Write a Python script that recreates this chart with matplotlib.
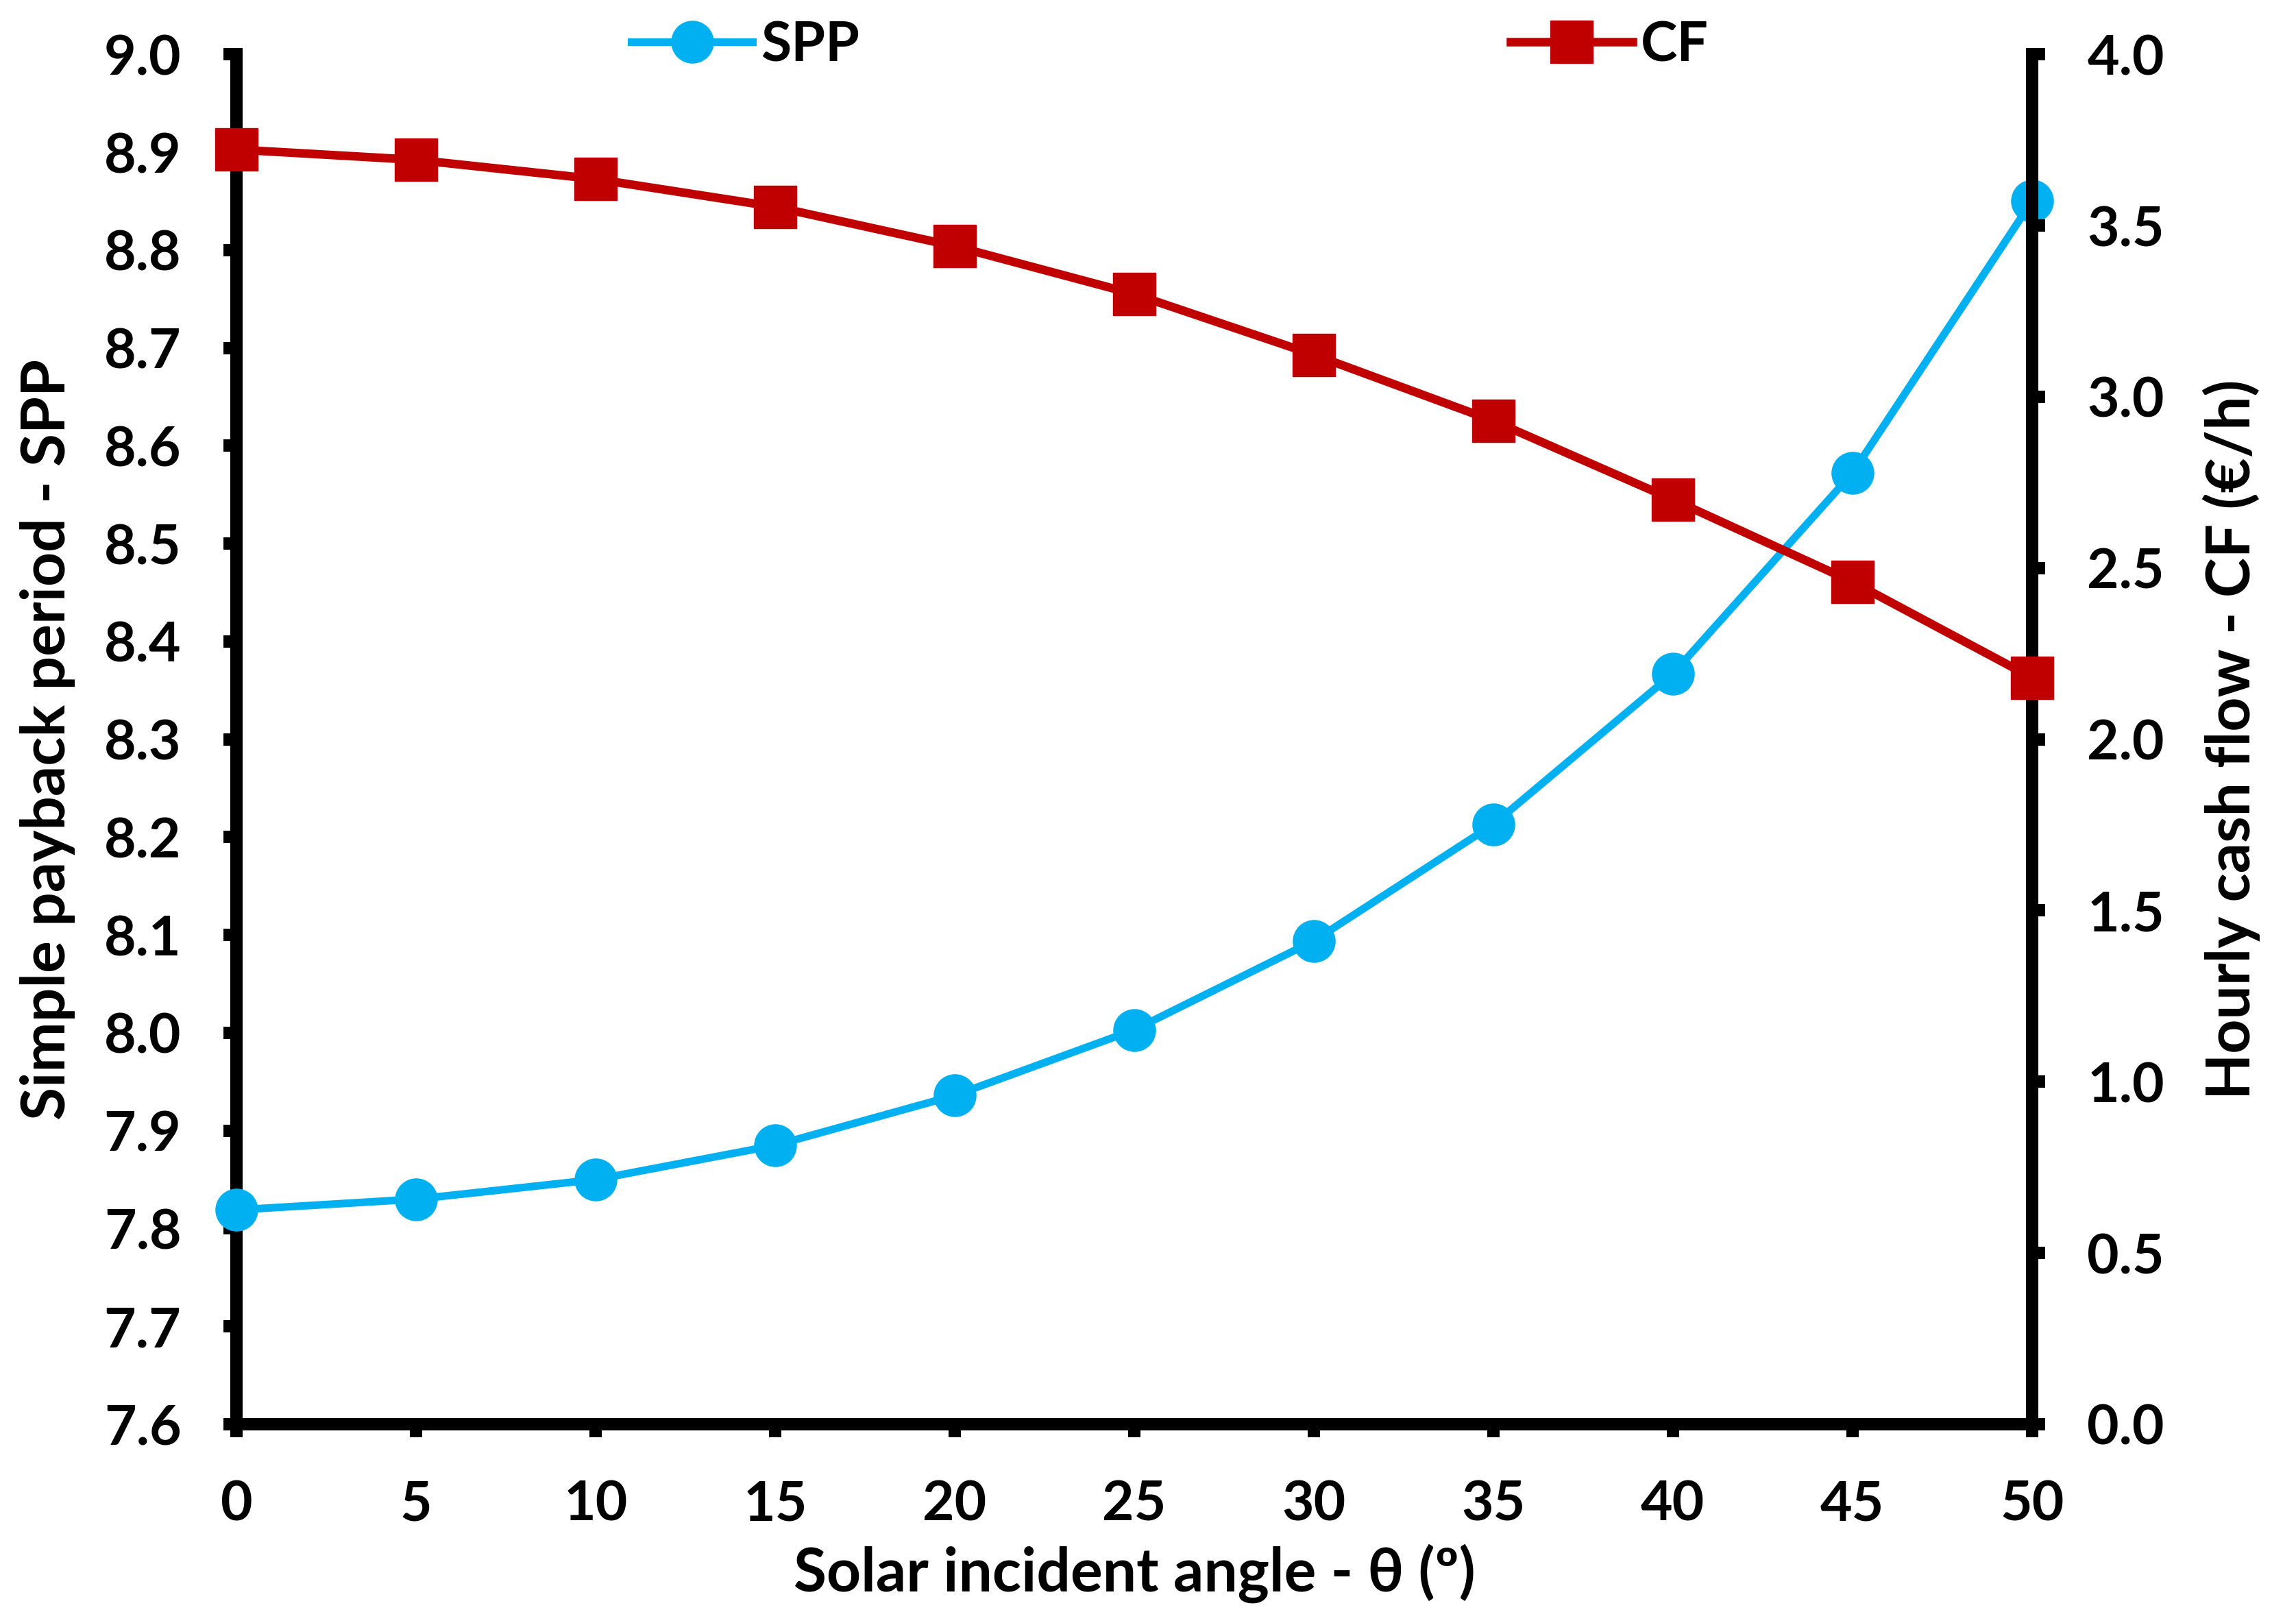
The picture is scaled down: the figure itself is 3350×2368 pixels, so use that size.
import matplotlib
matplotlib.use("Agg")
import matplotlib.pyplot as plt
from matplotlib.ticker import MultipleLocator, FormatStrFormatter

# Data
theta = [0, 5, 10, 15, 20, 25, 30, 35, 40, 45, 50]
spp = [7.819, 7.830, 7.850, 7.885, 7.936, 8.003, 8.094, 8.213, 8.367, 8.572, 8.850]
cf = [3.722, 3.692, 3.636, 3.555, 3.440, 3.300, 3.123, 2.930, 2.700, 2.460, 2.180]

SPP_COLOR = "#00B0F0"
CF_COLOR = "#C00000"

plt.rcParams["font.family"] = ["Lato", "DejaVu Sans"]
plt.rcParams["font.weight"] = "bold"

fig = plt.figure(figsize=(33.5, 23.68), dpi=100)
ax = fig.add_axes([0.103, 0.1225, 0.782, 0.844])
ax2 = ax.twinx()

ax.plot(theta, spp, color=SPP_COLOR, linewidth=8, marker="o", markersize=44,
        clip_on=False, zorder=3, label="SPP")
ax2.plot(theta, cf, color=CF_COLOR, linewidth=9, marker="s", markersize=44,
         clip_on=False, zorder=3, label="CF")

ax.set_xlim(0, 50)
ax.set_ylim(7.6, 9.0)
ax2.set_ylim(0.0, 4.0)
ax.xaxis.set_major_locator(MultipleLocator(5))
ax.yaxis.set_major_locator(MultipleLocator(0.1))
ax.yaxis.set_major_formatter(FormatStrFormatter("%.1f"))
ax2.yaxis.set_major_locator(MultipleLocator(0.5))
ax2.yaxis.set_major_formatter(FormatStrFormatter("%.1f"))

for a in (ax, ax2):
    a.spines["top"].set_visible(False)
    for side in ("left", "right", "bottom"):
        a.spines[side].set_linewidth(13)
    a.tick_params(direction="out", length=14, width=13, labelsize=58, pad=44)
ax.spines["right"].set_visible(False)
ax2.spines["left"].set_visible(False)
ax2.spines["bottom"].set_visible(False)

ax.set_xlabel("Solar incident angle - θ (º)", fontsize=63, fontweight="bold", labelpad=14)
ax.set_ylabel("Simple payback period - SPP", fontsize=63, fontweight="bold", labelpad=30)
ax2.set_ylabel("Hourly cash flow - CF (€/h)", fontsize=63, fontweight="bold", labelpad=40)

# two separate legend entries along the top edge
h1, l1 = ax.get_legend_handles_labels()
h2, l2 = ax2.get_legend_handles_labels()
leg1 = fig.legend(h1, l1, loc="center left", bbox_to_anchor=(0.275, 0.972),
                  frameon=False, fontsize=58, borderpad=0, borderaxespad=0,
                  handlelength=2.2, handletextpad=0.15)
leg2 = fig.legend(h2, l2, loc="center left", bbox_to_anchor=(0.658, 0.972),
                  frameon=False, fontsize=58, borderpad=0, borderaxespad=0,
                  handlelength=2.2, handletextpad=0.15)

fig.savefig("out.png", dpi=100)
